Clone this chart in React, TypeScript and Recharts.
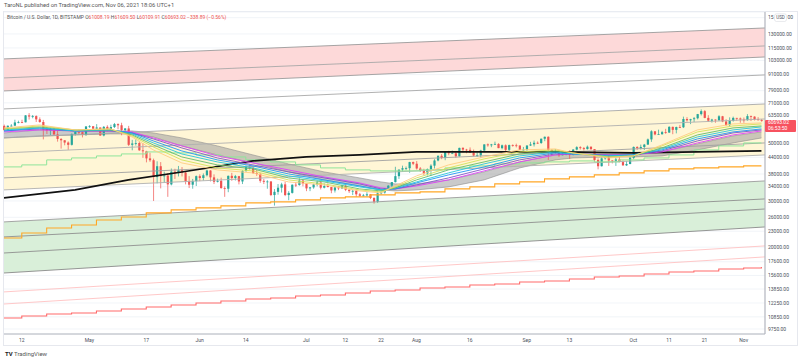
import React from 'react'
import { ComposedChart, Bar, Line, Area, XAxis, YAxis, CartesianGrid } from 'recharts'

// daily BTC/USD candles, Apr 7 – Nov 6 2021 (index 0 = Apr 7)
const FIRST_OPEN = 57990
const CLOSE = [
  55950, 58080, 58100, 59770, 59960, 59840, 63580, 62960, 63200, 61400, 60000, 56200, 55700, 56500, 53800, 51700, 51100, 50100, 49100, 54000, 55000, 54900, 53600, 57700,
  57800, 56600, 57200, 53300, 57500, 56400, 57400, 58900, 58300, 55900, 56700, 49100, 49700, 49900, 46800, 46400, 43600, 42900, 37000, 40700, 37300, 37500, 34700, 38800, 38300, 39300, 38500, 35700, 34600, 35700, 37300,
  36700, 37600, 39200, 36900, 35500, 35800, 33600, 33400, 37400, 36700, 37300, 35600, 39000, 40500, 40100, 38300, 38100, 35800, 35500, 35600, 31600, 32500, 33700, 34700, 31600, 32200, 34600, 34500, 35900, 35000,
  33500, 33800, 34700, 35300, 33700, 34200, 33900, 32900, 33800, 33500, 34300, 33100, 32700, 32800, 31800, 31400, 31500, 31800, 30800, 29800, 32100, 32300, 33600, 34300, 35400, 37300, 39500, 40000, 40000, 42200, 41600,
  39900, 39200, 38200, 39700, 40900, 42800, 44600, 43800, 46300, 45600, 45600, 44400, 47800, 47100, 47000, 45900, 44700, 44800, 46700, 49300, 48900, 49300, 49500, 47700, 48900, 47000, 49000, 48900, 48800, 47000, 47100,
  48800, 49300, 50000, 49900, 51800, 52700, 46900, 46100, 46400, 44800, 45200, 46100, 44900, 47100, 48100, 47700, 47300, 48300, 47300, 43000, 40700, 43600, 44900, 42800, 42700, 43200, 42200, 41000, 41500, 43800,
  48200, 47700, 48200, 49200, 51500, 55300, 53800, 53900, 54900, 54700, 57500, 56000, 57400, 57300, 61600, 60900, 61500, 62000, 64300, 66000, 62200, 60700, 61300, 60900, 63100, 60300, 58400, 60600, 62200, 61900, 61300,
  61000, 63200, 62900, 61400, 61008.19, 60693.02,
]
const HIGH = [
  58650, 58150, 58880, 61200, 60700, 61200, 63800, 64870, 63800, 63600, 62500, 61100, 57500, 57000, 56800, 55500, 52100, 51200, 50600, 54300, 55400, 56400, 55200, 57900,
  58400, 57900, 58900, 57100, 57900, 58300, 58600, 59500, 59300, 59600, 56900, 58000, 51300, 51500, 50600, 49800, 46600, 45800, 43500, 42500, 42200, 38800, 38300, 39900, 39800, 40800, 40400, 38900, 37300, 36400, 37500,
  37900, 38200, 39500, 39300, 37900, 36500, 36800, 34100, 37500, 38400, 37700, 37400, 39300, 41000, 41300, 40500, 39500, 38200, 36400, 36000, 35700, 33300, 34800, 35200, 35500, 32700, 34700, 35300, 36600, 36000,
  35000, 33900, 34900, 35900, 35300, 35000, 35000, 33900, 34100, 34200, 34600, 34600, 33300, 33100, 33200, 32200, 31900, 32400, 31900, 31000, 32800, 32600, 33600, 34500, 35400, 40500, 39500, 40900, 40600, 42300, 42400,
  42600, 40400, 39800, 39900, 41400, 43300, 44700, 45300, 46400, 46600, 46700, 46200, 47900, 48100, 47400, 48000, 47100, 46000, 47000, 49300, 49700, 49500, 50500, 49800, 49200, 49300, 49200, 49300, 49600, 48900, 48200,
  48900, 50400, 51000, 50600, 51900, 52800, 52900, 47300, 47300, 47000, 45900, 46400, 46800, 47300, 48500, 48500, 48200, 48800, 48400, 47300, 43600, 44000, 44900, 45000, 42900, 43900, 44300, 42800, 42600, 44100,
  48400, 48500, 49200, 49500, 51900, 55800, 55300, 56100, 55500, 56500, 57800, 57600, 57600, 58500, 62900, 62600, 61700, 62700, 64400, 67000, 66600, 63700, 61700, 61400, 63700, 63300, 61500, 62500, 62900, 62200, 62400,
  62400, 64300, 63500, 63100, 62600, 61609.5,
]
const LOW = [
  55500, 55750, 57700, 57900, 59300, 59400, 59800, 61300, 62000, 60000, 59600, 51500, 54000, 53500, 53600, 50500, 47500, 48900, 47000, 48800, 53300, 53900, 52400, 53100,
  57000, 56100, 56500, 53100, 52900, 55300, 55300, 56900, 56300, 53400, 54400, 48600, 46800, 48800, 46600, 43800, 42100, 42300, 30000, 35000, 33500, 35300, 31100, 34400, 36400, 37200, 37200, 34700, 33600, 33400, 34200,
  35700, 35900, 37200, 35600, 34800, 35300, 33400, 31100, 32400, 35800, 35900, 34700, 34800, 38800, 39500, 38100, 37400, 35200, 34800, 33400, 31300, 28800, 31700, 32300, 31300, 30200, 32000, 33900, 34300, 34100,
  32700, 32700, 33400, 34100, 33200, 33500, 33800, 32100, 32300, 33000, 33300, 32700, 32200, 31600, 31100, 31100, 31200, 31200, 30500, 29300, 29500, 31700, 32000, 33400, 33900, 35300, 36400, 38800, 39300, 38400, 41100,
  39500, 38700, 37700, 37500, 37400, 39900, 42500, 43300, 42900, 44800, 45400, 43800, 44300, 45900, 45600, 45700, 44400, 44200, 43900, 46600, 48300, 48100, 49100, 47700, 47200, 46400, 46400, 48300, 48000, 46900, 46700,
  46600, 48600, 48400, 49500, 49500, 50700, 43000, 44500, 45500, 44200, 44800, 44800, 43400, 44800, 46800, 47100, 46700, 47100, 46900, 42500, 39600, 40600, 43100, 40800, 41700, 40800, 42100, 40900, 40800, 41400,
  43300, 47000, 47100, 46900, 49100, 50400, 53400, 53700, 53700, 54100, 54500, 53900, 54300, 56900, 56900, 60200, 58900, 60000, 61400, 63500, 62000, 60000, 59700, 59600, 60700, 59900, 58100, 57800, 60200, 60700, 59600,
  59600, 60700, 60500, 60800, 60800, 60109.91,
]

const TICK_IDX = [5, 24, 40, 55, 68, 85, 96, 106, 116, 131, 147, 159, 177, 187, 197, 208]
const TICK_LABELS = ['12', 'May', '17', 'Jun', '14', 'Jul', '12', '22', 'Aug', '16', 'Sep', '13', 'Oct', '11', '21', 'Nov']
const PRICE_TICKS = [9750, 10850, 12250, 13850, 15600, 17600, 20000, 23000, 26000, 30000, 34000, 38000, 44000, 50000, 63500, 71000, 79000, 91000, 103000, 115000, 130000, 150000]

// log channel lines: value at first and last index
const CHANNEL_IDX = [0, 214]
const RED_TOP = [104400, 137000]
const RED_MID = [88350, 117000]
const RED_BOT = [78820, 106200]
const GRAY_LINE = [67300, 90700]
const YEL_TOP = [52170, 70300]
const YEL_A = [45740, 61630]
const YEL_B = [36730, 49930]
const YEL_BOT = [33060, 44940]
const GRN_TOP = [24960, 35770]
const GRN_A = [21880, 30540]
const GRN_B = [19000, 27960]
const GRN_BOT = [15940, 23880]
const PINK_1 = [13500, 20220]
const PINK_2 = [12140, 18360]

// moving-average ribbon, read at sample days
const RIBBON_IDX = [0, 10, 20, 30, 36, 42, 50, 60, 70, 80, 90, 100, 106, 110, 116, 125, 135, 145, 155, 160, 170, 177, 185, 195, 205, 213]
const R1 = [56958, 58477, 55967, 56460, 52632, 46957, 41894, 39398, 38374, 35460, 34538, 32767, 32197, 34237, 37377, 41165, 44159, 46957, 47371, 45737, 43773, 44548, 49064, 55967, 58992, 59512]
const R2 = [56460, 57966, 55967, 56460, 53096, 48210, 43012, 40095, 39053, 36088, 34843, 33056, 32481, 33938, 36727, 40095, 43391, 46140, 46957, 45737, 44159, 44548, 48635, 54993, 57966, 58992]
const R3 = [56460, 57460, 55967, 55967, 53564, 49064, 44159, 41165, 39745, 36727, 35460, 33347, 32767, 33641, 36088, 39398, 42263, 45337, 46547, 45737, 44159, 44548, 47789, 53564, 56958, 57966]
const R4 = [55967, 56958, 55478, 55967, 54036, 49932, 45337, 42263, 40095, 37377, 35772, 33938, 33056, 33641, 35460, 38374, 41528, 44548, 46140, 45337, 44548, 44941, 47371, 52632, 55967, 57460]
const R5 = [55478, 56958, 55478, 55967, 54512, 50816, 46547, 43012, 40805, 38039, 36088, 34237, 33056, 33347, 35150, 37706, 40449, 43773, 45737, 45337, 44548, 44941, 46957, 51716, 54993, 56460]
const R6 = [55478, 56460, 55478, 55478, 54512, 51716, 47789, 43773, 41165, 38712, 36727, 34843, 33347, 33347, 34538, 36727, 39745, 43012, 45337, 45337, 44941, 44941, 46547, 50816, 54512, 55967]
const R7 = [54993, 55967, 55478, 55478, 54993, 52172, 48635, 44548, 41894, 39398, 37050, 35150, 33641, 33347, 34237, 36088, 39053, 42263, 44941, 45337, 44941, 44941, 46140, 49932, 53564, 55478]
const GRAY_HI = [54512, 55967, 55478, 55478, 55478, 54512, 52172, 48635, 44941, 41528, 38712, 36727, 35460, 34843, 34843, 36088, 38712, 42263, 44941, 45337, 45337, 45337, 46140, 49496, 53096, 54993]
const GRAY_LO = [52172, 53096, 53564, 54036, 54036, 52632, 48635, 44941, 41894, 38712, 36088, 34237, 33056, 32767, 33056, 33938, 36088, 40095, 43012, 43773, 44159, 44159, 44548, 46957, 49932, 52172]
const RIBBON_COLORS = ['#ffcc80', '#d4e157', '#66bb6a', '#26c6da', '#2196f3', '#7e57c2', '#e040fb']

const BLACK_IDX = [0, 20, 35, 50, 70, 85, 100, 116, 135, 155, 177, 195, 213]
const BLACK = [30816, 33056, 36088, 38712, 42636, 44159, 44941, 46140, 46140, 46140, 45737, 46140, 46547]

// weekly lines (step at each Monday)
const WEEK_IDX = [0, 5, 12, 19, 26, 33, 40, 47, 54, 61, 68, 75, 82, 89, 96, 103, 110, 117, 124, 131, 138, 145, 152, 159, 166, 173, 180, 187, 194, 201, 208, 213]
const LIGHT_GREEN = [40449, 41165, 43012, 43773, 44548, 45337, 46140, 45737, 44941, 44159, 43012, 42263, 41165, 40095, 39398, 39053, 39053, 39398, 40095, 40805, 41528, 41894, 42263, 42636, 42263, 43012, 43773, 44941, 46957, 48635, 49932, 49932]
const ORANGE = [21682, 22655, 23667, 24299, 25390, 26076, 27009, 27730, 28226, 28726, 29492, 29753, 30280, 30813, 31085, 31637, 32197, 32481, 33347, 33938, 34843, 35460, 36406, 37050, 37706, 38374, 39053, 39745, 40095, 40449, 40805, 40805]
const RED_STEP = [10738, 10929, 11122, 11220, 11419, 11624, 11830, 12040, 12253, 12470, 12687, 12798, 13025, 13140, 13373, 13610, 13730, 13973, 14096, 14346, 14473, 14729, 14859, 15126, 15394, 15530, 15805, 16085, 16227, 16512, 16658, 16804]

const UP = '#26a69a'
const DOWN = '#ef5350'
const FONT = 'Roboto, sans-serif'
const AXIS_TEXT = '#4a4f5a'

const rows: any[] = Array.from({ length: 215 }, (_, i) => {
  const r: any = { i }
  if (i < CLOSE.length) {
    r.o = i === 0 ? FIRST_OPEN : CLOSE[i - 1]
    r.h = HIGH[i]
    r.l = LOW[i]
    r.c = CLOSE[i]
    r.hl = [LOW[i], HIGH[i]]
  }
  return r
})

function put(key: string, idx: number[], vals: number[]) {
  idx.forEach((k, j) => {
    rows[k][key] = vals[j]
  })
}
function putRange(key: string, idx: number[], lo: number[], hi: number[]) {
  idx.forEach((k, j) => {
    rows[k][key] = [lo[j], hi[j]]
  })
}

putRange('redBand', CHANNEL_IDX, RED_BOT, RED_TOP)
putRange('yelBand', CHANNEL_IDX, YEL_BOT, YEL_TOP)
putRange('grnBand', CHANNEL_IDX, GRN_BOT, GRN_TOP)
const CHANNEL_LINES: [string, number[], string][] = [
  ['redTop', RED_TOP, '#9b9b9b'], ['redMid', RED_MID, '#a8a8a8'], ['redBot', RED_BOT, '#9b9b9b'],
  ['grayLine', GRAY_LINE, '#a8a8a8'],
  ['yelTop', YEL_TOP, '#a8a8a8'], ['yelA', YEL_A, '#b0b0b0'], ['yelB', YEL_B, '#a0a0a0'], ['yelBot', YEL_BOT, '#b0b0b0'],
  ['grnTop', GRN_TOP, '#9b9b9b'], ['grnA', GRN_A, '#8f8f8f'], ['grnB', GRN_B, '#8f8f8f'], ['grnBot', GRN_BOT, '#8a8a8a'],
  ['pink1', PINK_1, '#ffc2c2'], ['pink2', PINK_2, '#ffc2c2'],
]
CHANNEL_LINES.forEach(([k, v]) => put(k, CHANNEL_IDX, v))

const RIBBON = [R1, R2, R3, R4, R5, R6, R7]
RIBBON.forEach((v, n) => put('r' + n, RIBBON_IDX, v))
putRange('grayRibbon', RIBBON_IDX, GRAY_LO, GRAY_HI)
put('black', BLACK_IDX, BLACK)
put('lgreen', WEEK_IDX, LIGHT_GREEN)
put('orange', WEEK_IDX, ORANGE)
put('redStep', WEEK_IDX, RED_STEP)

function Candle(props: any) {
  const { x, y, width, height, payload } = props
  if (!payload || payload.h == null) return null
  const top = Math.min(y, y + height)
  const bot = Math.max(y, y + height)
  const lh = Math.log(payload.h)
  const ll = Math.log(payload.l)
  const py = (p: number) => top + ((bot - top) * (lh - Math.log(p))) / (lh - ll || 1)
  const cx = x + width / 2
  const color = payload.c >= payload.o ? UP : DOWN
  const b1 = py(Math.max(payload.o, payload.c))
  const b2 = py(Math.min(payload.o, payload.c))
  return (
    <g>
      <line x1={cx} x2={cx} y1={top} y2={bot} stroke={color} strokeWidth={0.7} />
      <rect x={cx - 1.1} y={b1} width={2.2} height={Math.max(0.8, b2 - b1)} fill={color} />
    </g>
  )
}

// price-scale tick; the top one carries the currency badge in its middle
function PriceTick(props: any) {
  const { x, y, payload } = props
  const common = { fontSize: 5, fill: AXIS_TEXT, fontFamily: FONT, dy: '0.355em' }
  if (payload.value === 150000) {
    return (
      <g>
        <text x={x} y={y} {...common}>15</text>
        <rect x={x + 6.5} y={y - 3.8} width={12} height={7.6} rx={2} fill="#fff" stroke="#d0d3db" strokeWidth={0.5} />
        <text x={x + 12.5} y={y} {...common} fontSize={4.5} textAnchor="middle">USD</text>
        <text x={x + 19.5} y={y} {...common}>00</text>
      </g>
    )
  }
  return (
    <text x={x} y={y} {...common}>
      {payload.value.toFixed(2)}
    </text>
  )
}

const text: React.CSSProperties = { position: 'absolute', fontFamily: FONT, whiteSpace: 'nowrap', lineHeight: 1 }

export default function App() {
  return (
    <div style={{ position: 'absolute', left: 0, top: 0, width: 800, height: 362, background: '#fff', overflow: 'hidden' }}>
      <div style={{ ...text, left: 4, top: 3, fontSize: 5.8, color: '#555' }}>
        TaroNL published on TradingView.com, Nov 06, 2021 18:06 UTC+1
      </div>
      <div style={{ position: 'absolute', left: 3, top: 11, width: 795, height: 335, border: '1px solid #e6e8ee', boxSizing: 'border-box' }} />
      <div style={{ position: 'absolute', left: 0, top: 0 }}>
        <ComposedChart width={800} height={362} data={rows} margin={{ top: 12, right: 0, bottom: 16, left: 4 }}>
          <CartesianGrid vertical={false} stroke="#eef1f6" strokeWidth={0.8} />
          <XAxis
            dataKey="i"
            type="number"
            domain={[0, 214]}
            ticks={TICK_IDX}
            interval={0}
            tickFormatter={(v: number) => TICK_LABELS[TICK_IDX.indexOf(v)]}
            tick={{ fontSize: 5, fill: AXIS_TEXT, fontFamily: FONT }}
            tickLine={false}
            tickSize={0}
            tickMargin={4}
            height={12}
            axisLine={{ stroke: '#b2b5be', strokeWidth: 1.2 }}
          />
          <YAxis
            orientation="right"
            scale="log"
            domain={[9330, 157600]}
            allowDataOverflow
            ticks={PRICE_TICKS}
            interval={0}
            width={35}
            tick={(p: any) => <PriceTick {...p} />}
            tickLine={false}
            tickSize={0}
            tickMargin={3}
            axisLine={{ stroke: '#b2b5be', strokeWidth: 1.2 }}
          />

          <Area dataKey="redBand" connectNulls fill="#fdd9d9" fillOpacity={1} stroke="none" isAnimationActive={false} />
          <Area dataKey="yelBand" connectNulls fill="#fff6d6" fillOpacity={1} stroke="none" isAnimationActive={false} />
          <Area dataKey="grnBand" connectNulls fill="#d9efd9" fillOpacity={1} stroke="none" isAnimationActive={false} />
          {CHANNEL_LINES.map(([k, , color]) => (
            <Line key={k} dataKey={k} connectNulls stroke={color} strokeWidth={0.9} dot={false} activeDot={false} isAnimationActive={false} />
          ))}

          <Line dataKey="redStep" type="stepAfter" connectNulls stroke="#ff6b6b" strokeWidth={1.1} dot={false} activeDot={false} isAnimationActive={false} />
          <Line dataKey="orange" type="stepAfter" connectNulls stroke="#ffa726" strokeWidth={1.1} dot={false} activeDot={false} isAnimationActive={false} />
          <Line dataKey="lgreen" type="stepAfter" connectNulls stroke="#8ee59a" strokeWidth={1} dot={false} activeDot={false} isAnimationActive={false} />
          <Line dataKey="black" connectNulls stroke="#111" strokeWidth={1.6} dot={false} activeDot={false} isAnimationActive={false} />

          <Area dataKey="grayRibbon" connectNulls fill="#9e9e9e" fillOpacity={0.55} stroke="#8d8d8d" strokeWidth={0.6} isAnimationActive={false} />
          {RIBBON.map((_, n) => n).reverse().map((n) => (
            <Line key={n} dataKey={'r' + n} connectNulls stroke={RIBBON_COLORS[n]} strokeWidth={0.9} dot={false} activeDot={false} isAnimationActive={false} />
          ))}

          <Bar dataKey="hl" barSize={2} shape={(p: any) => <Candle {...p} />} isAnimationActive={false} />
        </ComposedChart>
      </div>

      <div style={{ ...text, left: 7, top: 15, fontSize: 5, color: '#555' }}>
        Bitcoin / U.S. Dollar, 1D, BITSTAMP{'  '}
        <span style={{ color: '#555' }}>O</span><span style={{ color: DOWN }}>61008.19 </span>
        <span style={{ color: '#555' }}>H</span><span style={{ color: DOWN }}>61609.50 </span>
        <span style={{ color: '#555' }}>L</span><span style={{ color: DOWN }}>60109.91 </span>
        <span style={{ color: '#555' }}>C</span><span style={{ color: DOWN }}>60693.02 −338.89 (−0.56%)</span>
      </div>

      <div style={{ position: 'absolute', left: 765, top: 119.5, width: 31, height: 12, background: '#f7525f', borderRadius: 1, color: '#fff', fontFamily: FONT, fontSize: 5, lineHeight: '5.4px', paddingTop: 0.8, paddingLeft: 3, boxSizing: 'border-box' }}>
        <div>60693.02</div>
        <div>06:53:50</div>
      </div>

      <div style={{ ...text, left: 5, top: 351, fontSize: 6, color: '#555' }}>
        <b style={{ color: '#222' }}>TV</b> TradingView
      </div>
    </div>
  )
}
